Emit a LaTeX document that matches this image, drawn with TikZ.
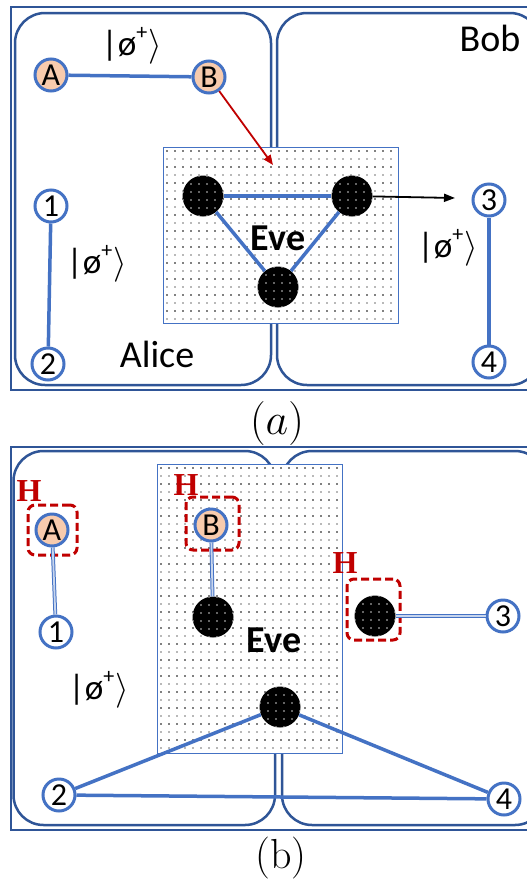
\RequirePackage{fix-cm}
\documentclass[tikz,border=0pt]{standalone}
\usepackage{fontspec}
\newfontfamily\carl{Carlito}
\newfontfamily\lserif{Liberation Serif}
\usetikzlibrary{arrows.meta}
\definecolor{blueline}{RGB}{68,114,196}
\definecolor{frameblue}{RGB}{47,85,151}
\definecolor{peach}{RGB}{248,203,173}
\definecolor{hred}{RGB}{192,0,0}
\newcommand{\phiket}{|ø\raisebox{0.45em}{\fontsize{22}{22}\selectfont +}\hspace{0.04em}$\rangle$}
\newcommand{\evespeckle}[1]{%
  \begin{scope}
    \clip (#1.center) circle (20.5pt);
    \fill[white!80!black] \foreach \dx in {-20,-12,...,20} {\foreach \dy in {-20,-12,...,20} {([shift={(\dx,\dy)}]#1.center) circle (0.85pt)}};
  \end{scope}}
\tikzset{
  qubit/.style={circle, draw=blueline, line width=3pt, fill=white, minimum size=32pt, inner sep=0pt, font=\carl\fontsize{32}{32}\selectfont},
  qpeach/.style={qubit, fill=peach},
  evenode/.style={circle, fill=black, minimum size=41pt, inner sep=0pt},
  link/.style={blueline, line width=3.5pt},
  dlink/.style={draw=blueline, line width=1pt, double=blueline!30, double distance=1.8pt},
  panel/.style={draw=frameblue, line width=2.5pt, rounded corners=30pt},
  outer/.style={draw=frameblue, line width=1.8pt},
  everect/.style={draw=blueline, line width=1pt, fill=white},
  hbox/.style={draw=hred, line width=3pt, dash pattern=on 8pt off 4pt, rounded corners=7pt, inner sep=0pt},
  hlabel/.style={text=hred, inner sep=0pt, font=\lserif\bfseries\fontsize{32}{32}\selectfont},
  lbl/.style={inner sep=0pt, font=\carl\fontsize{38}{38}\selectfont},
  evelbl/.style={inner sep=0pt, font=\carl\bfseries\fontsize{38}{38}\selectfont},
  ketlbl/.style={inner sep=0pt, font=\carl\fontsize{35}{35}\selectfont},
  redarrow/.style={hred, line width=1.8pt, -{Triangle[length=10pt,width=8pt]}},
  blackarrow/.style={black, line width=1.8pt, -{Triangle[length=11pt,width=8pt]}},
}
\begin{document}
\begin{tikzpicture}[x=1pt,y=-1pt]
\useasboundingbox (0,0) rectangle (527,879);
\clip (0,0) rectangle (527,879);
\fill[white] (0,0) rectangle (527,879);

% ---------------- panel (a) ----------------
\draw[outer] (11,7) rectangle (545,390);
\draw[panel] (15,13) rectangle (271,385);
\draw[panel] (277,13) rectangle (540,385);
\draw[everect] (163,147) rectangle (398,323);
\fill[black] \foreach \x in {167,175,...,395} {\foreach \y in {151,167,...,320} {(\x,\y) circle (0.85pt)}};
\fill[black!55] \foreach \x in {167,175,...,395} {\foreach \y in {159,175,...,320} {(\x,\y) circle (0.85pt)}};

\node[evenode] (e1) at (203,196) {};
\node[evenode] (e2) at (352,196) {};
\node[evenode] (e3) at (278,287) {};
\evespeckle{e1}\evespeckle{e2}\evespeckle{e3}

\node[qpeach] (A) at (51,75) {A};
\node[qpeach] (B) at (209,77) {B};
\node[qubit] (n1) at (51,206) {1};
\node[qubit] (n2) at (48,364) {2};
\node[qubit] (n3) at (489,200) {3};
\node[qubit] (n4) at (489,362) {4};

\draw[link] (A) -- (B);
\draw[link] (n1) -- (n2);
\draw[link] (n3) -- (n4);
\draw[link] (e1) -- (e2);
\draw[link] (e1) -- (e3);
\draw[link] (e2) -- (e3);

\coordinate (redtip) at (273,165);
\coordinate (blacktip) at (455,198);
\draw[redarrow] (B) -- (redtip);
\draw[blackarrow] (e2) -- (blacktip);

\node[ketlbl] (ketA1) at (132,46) {\phiket};
\node[ketlbl] (ketA2) at (97,264) {\phiket};
\node[ketlbl] (ketA3) at (448,248) {\phiket};
\node[lbl] (alice) at (157,354) {Alice};
\node[lbl] (bob) at (490,38) {Bob};
\node[evelbl] (eveA) at (278,238) {Eve};
\node[inner sep=0pt, font=\fontsize{44}{44}\selectfont] (capa) at (277,423) {$(a)$};

% ---------------- panel (b) ----------------
\draw[outer] (11,447) rectangle (545,830);
\draw[panel] (13.5,451) rectangle (275,825);
\draw[panel] (282,451) rectangle (545,825);
\draw[everect] (157,464) rectangle (342,753);
\fill[black] \foreach \x in {161,169,...,339} {\foreach \y in {468,484,...,750} {(\x,\y) circle (0.85pt)}};
\fill[black!55] \foreach \x in {161,169,...,339} {\foreach \y in {476,492,...,750} {(\x,\y) circle (0.85pt)}};

\node[evenode] (e4) at (213,617) {};
\node[evenode] (e5) at (280,707) {};
\node[evenode] (e6) at (375,616) {};
\evespeckle{e4}\evespeckle{e5}\evespeckle{e6}

\node[qpeach] (bA) at (52,530) {A};
\node[qpeach] (bB) at (211,525) {B};
\node[qubit] (b1) at (56,632) {1};
\node[qubit] (b2) at (59,795) {2};
\node[qubit] (b3) at (503,616) {3};
\node[qubit] (b4) at (504,799) {4};

\node[hbox, minimum width=49pt, minimum height=50pt] (hA) at (52.5,530) {};
\node[hbox, minimum width=53pt, minimum height=53pt] (hB) at (212.5,523.5) {};
\node[hbox, minimum width=53pt, minimum height=61pt] (hE) at (373.5,609.5) {};
\node[hlabel] (H1) at (29,491) {H};
\node[hlabel] (H2) at (186,485) {H};
\node[hlabel] (H3) at (345,563) {H};

\draw[dlink] (bA) -- (b1);
\draw[dlink] (bB) -- (e4);
\draw[dlink] (e6) -- (b3);
\draw[link] (e5) -- (b2);
\draw[link] (e5) -- (b4);
\draw[link] (b2) -- (b4);

\node[ketlbl] (ketB) at (99,690) {\phiket};
\node[evelbl] (eveB) at (274,640) {Eve};
\node[inner sep=0pt, font=\fontsize{42}{42}\selectfont] (capb) at (281,858) {(b)};
\end{tikzpicture}
\end{document}
